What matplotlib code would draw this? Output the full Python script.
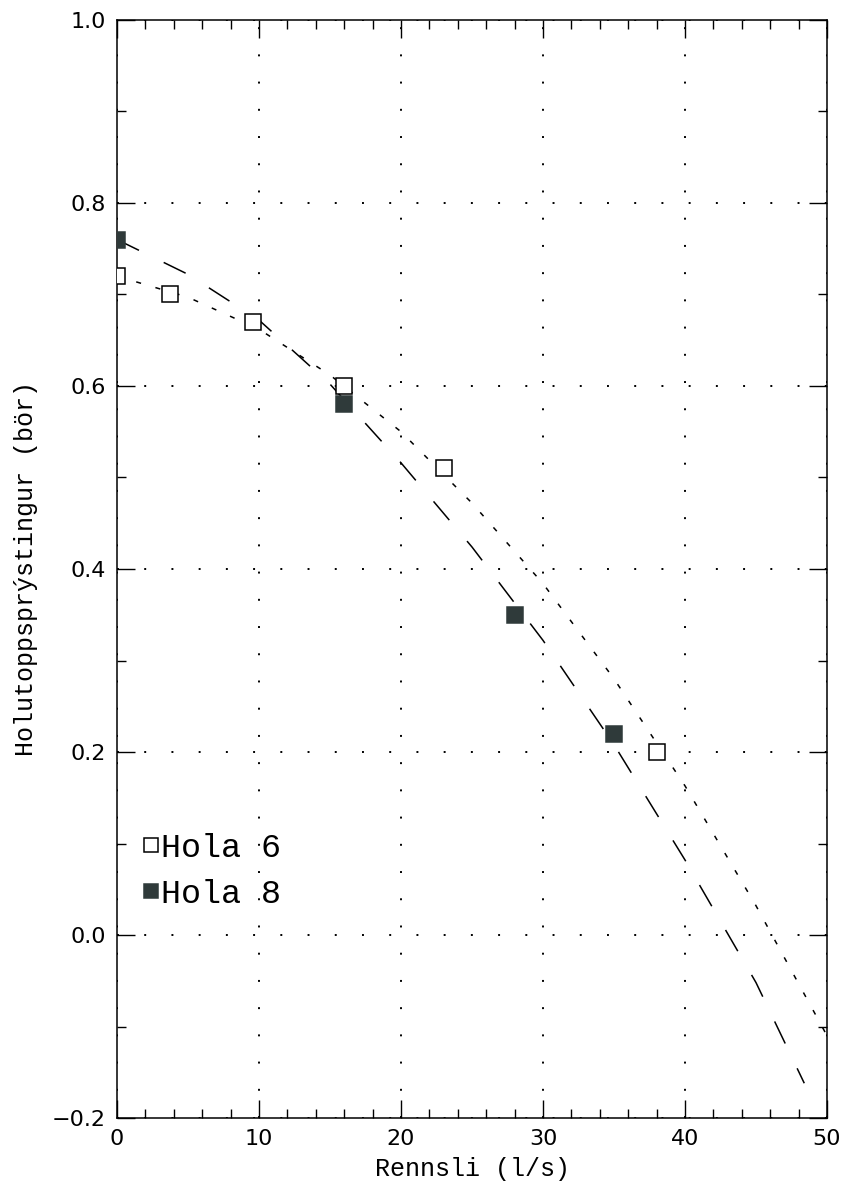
import matplotlib.pyplot as plt
from matplotlib.ticker import MultipleLocator

# Measured points
hola6_x = [0, 3.7, 9.6, 16, 23, 38]
hola6_y = [0.72, 0.70, 0.67, 0.60, 0.51, 0.20]
hola8_x = [0, 16, 28, 35]
hola8_y = [0.76, 0.58, 0.35, 0.22]

# Fitted curves
fit6_x = [0, 5, 10, 15, 20, 25, 30, 35, 40, 45, 50]
fit6_y = [0.72, 0.697, 0.662, 0.612, 0.550, 0.472, 0.384, 0.280, 0.163, 0.032, -0.11]
fit8_x = [0, 5, 10, 15, 20, 25, 30, 35, 40, 45, 48.4]
fit8_y = [0.76, 0.722, 0.672, 0.602, 0.516, 0.424, 0.322, 0.208, 0.082, -0.052, -0.162]

label_font = "Liberation Mono"
tick_font = "DejaVu Sans"
dark = "#2f3a3a"

fig = plt.figure(figsize=(8.45, 11.96), dpi=100)
ax = fig.add_axes([0.1385, 0.0652, 0.8402, 0.9181])

# Fitted curves
ax.plot(fit6_x, fit6_y, color="black", lw=1.1, linestyle=(0, (3.3, 9.8)))
ax.plot(fit8_x, fit8_y, color="black", lw=1.1, linestyle=(0, (16, 18)))

# Data points
ax.plot(hola6_x, hola6_y, linestyle="none", marker="s", markersize=11.5,
        markerfacecolor="white", markeredgecolor="black", markeredgewidth=1.1,
        label="Hola 6", zorder=3)
ax.plot(hola8_x, hola8_y, linestyle="none", marker="s", markersize=11.5,
        markerfacecolor=dark, markeredgecolor=dark, markeredgewidth=1.1,
        label="Hola 8", zorder=3)

ax.set_xlim(0, 50)
ax.set_ylim(-0.2, 1.0)
ax.xaxis.set_major_locator(MultipleLocator(10))
ax.xaxis.set_minor_locator(MultipleLocator(2))
ax.yaxis.set_major_locator(MultipleLocator(0.2))
ax.yaxis.set_minor_locator(MultipleLocator(0.1))
ax.yaxis.set_major_formatter(plt.FuncFormatter(lambda v, p: f"{v:.1f}".replace("-", "\u2212")))

ax.tick_params(which="both", direction="in", top=True, right=True, width=1.0,
               colors="black")
ax.tick_params(which="major", length=13, labelsize=16, pad=8)
ax.tick_params(which="minor", length=6.5)
for lab in ax.get_xticklabels() + ax.get_yticklabels():
    lab.set_fontfamily(tick_font)

for s in ax.spines.values():
    s.set_linewidth(1.1)

ax.grid(True, which="major", color="black", linestyle=(0, (1, 13)), linewidth=1.4)

ax.set_xlabel("Rennsli (l/s)", fontfamily=label_font, fontsize=18, labelpad=6)
ax.set_ylabel("Holutoppsprýstingur (bör)", fontfamily=label_font, fontsize=18,
              labelpad=10)

leg = ax.legend(loc="upper left", bbox_to_anchor=(-0.008, 0.287), frameon=False,
                handlelength=0.6, handletextpad=0.0, markerscale=0.85,
                labelspacing=0.45, prop={"family": label_font, "size": 24})

fig.savefig("out.png", dpi=100)
